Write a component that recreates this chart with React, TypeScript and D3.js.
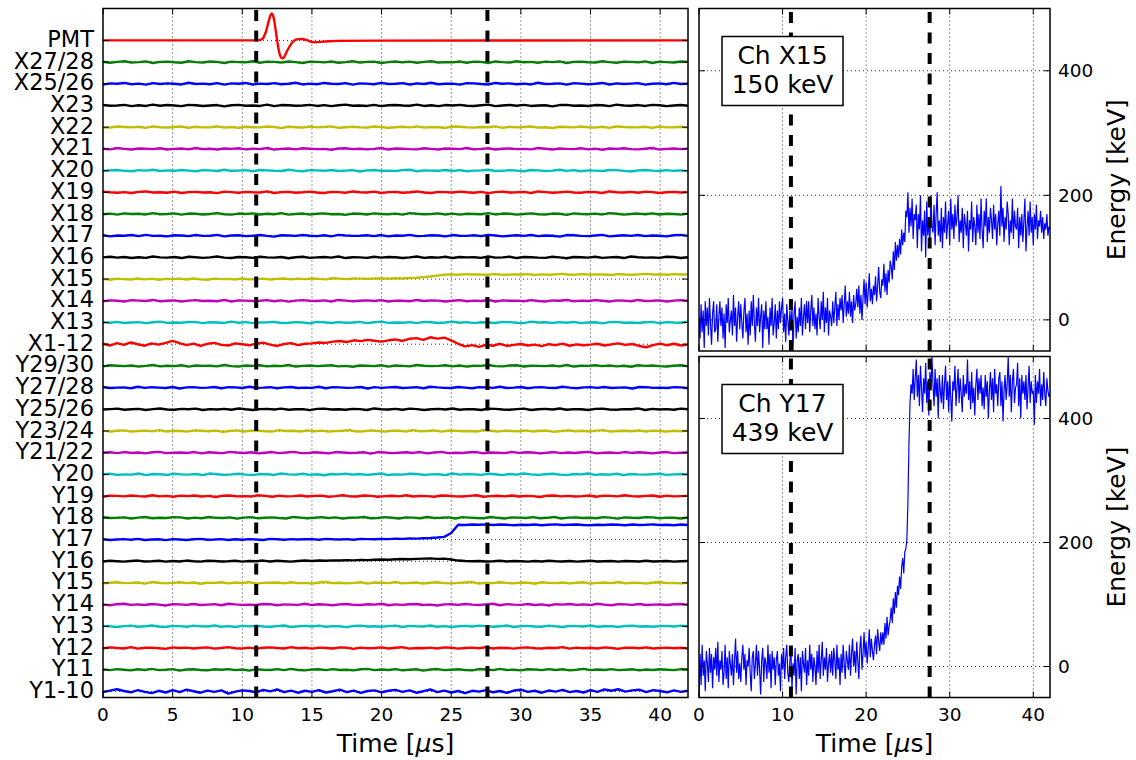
import React from "react";
import * as d3 from "d3";

// ---------- labels / ticks ----------
const CHANNELS = [
  "Y1-10", "Y11", "Y12", "Y13", "Y14", "Y15", "Y16", "Y17", "Y18", "Y19", "Y20",
  "Y21/22", "Y23/24", "Y25/26", "Y27/28", "Y29/30", "X1-12", "X13", "X14", "X15",
  "X16", "X17", "X18", "X19", "X20", "X21", "X22", "X23", "X25/26", "X27/28", "PMT",
];
const COLORS = ["#0000ff", "#008000", "#ff0000", "#00bfbf", "#bf00bf", "#bfbf00", "#000000"];
const LEFT_TIME_TICKS = [0, 5, 10, 15, 20, 25, 30, 35, 40];
const RIGHT_TIME_TICKS = [0, 10, 20, 30, 40];
const ENERGY_TICKS = [0, 200, 400];
const MARKERS = [11.0, 27.6];
const BOX_TOP = ["Ch X15", "150 keV"];
const BOX_BOTTOM = ["Ch Y17", "439 keV"];

// ---------- left panel traces (offset units: 100 = one channel spacing) ----------
const PMT_T = [0, 11.0, 11.3, 11.5, 11.7, 11.9, 12.0, 12.1, 12.2, 12.3, 12.4, 12.5, 12.6, 12.7, 12.8, 12.9, 13.0, 13.1, 13.2, 13.4, 13.6, 13.8, 14.0, 14.3, 14.6, 14.9, 15.2, 15.6, 16.2, 17, 20, 42];
const PMT_V = [0, 0, 2, 10, 40, 90, 112, 124, 118, 90, 45, 0, -40, -68, -80, -83, -78, -65, -50, -28, -8, 2, 6, 7, 2, -6, -9, -7, -4, -2, -1, 0];

const T_Y1_10 = [-3,4,10,2,-4,6,-2,-8,3,-5, 6,-3,8,1,-6,4,-2,5,-10,-1, 5,2,-4,7,0,9,-3,4,-6,3, -2,6,-5,1,8,-3,4,-7,2,5, -4,3,7,-2,5,-6,1,9,-3,4, -5,2,-8,3,-1,6,-4,2,-7,4, 8,-2,3,-6,4,-1,7,-3,2,-5, 6,-2,9,3,10,-1,5,8,-3,6, 2,-4,5,-2,3];
const T_X1_12 = [2,-6,5,-3,8,0,-7,4,-2,6, 15,5,-4,3,-8,2,6,-3,-6,4, 0,-5,3,7,-2,-8,1,5,-4,2, 4,8,6,12,15,10,18,14,20,16, 12,18,22,15,25,28,20,32,26,30, 18,2,-10,-4,-12,-3,-7,2,-8,-3, 1,-6,-2,-9,0,-4,3,-7,-1,-5, -2,2,-6,-1,4,-3,1,-8,-14,-4, 3,-5,2,-6,-1];
const T_X15 = [1,-3,2,0,-2,3,-1,2,-3,1, 0,2,-2,3,-1,-3,2,0,1,-2, 3,-1,0,2,-2,1,3,-1,2,0, 3,1,-1,4,2,0,3,2,1,3, 3,2,4,3,5,6,9,12,16,20, 22,20,23,21,22,19,23,21,20,22, 21,23,19,22,20,22,24,20,21,23, 20,22,21,19,23,21,20,22,24,21, 22,20,23,21,22];
const T_Y17 = [1,-2,0,2,-1,3,-2,0,1,-3, 2,0,-2,1,3,-1,0,2,-2,1, -1,2,0,-2,3,1,-1,2,0,1, 2,-1,3,1,0,2,-1,3,2,1, 3,2,4,3,5,4,6,7,9,12, 30,68,67,69,68,70,67,69,68,66, 68,67,69,66,68,70,67,68,69,67, 66,68,67,69,68,66,69,67,68,70, 67,68,66,69,67];
const T_Y16 = [-1,2,0,-2,1,3,-1,0,2,-2, 1,-1,3,0,-2,2,1,-1,0,2, -2,1,0,3,-1,2,0,-2,1,3, 1,3,2,4,3,5,4,6,5,7, 8,7,9,10,9,11,12,13,11,12, 8,3,1,0,1,-1,0,2,-1,1, 0,-2,1,-1,2,0,-1,1,-2,0, 2,-1,0,1,-2,1,0,-1,2,-1, 0,1,-2,0,1];

const T_Y11 = [1,-2,3,0,-3,2,-1,4,-2,0,3,-4,1,2,-1,-3,2,0,3,-2,1,-4,2,0,-1,3,-2,4,-1,-3,1,2,-2,3,-1,0,-3,2,4,-2,1,-1,3,-3,0,2,-4,1,3,-2,0,2,-1,-3,3,1,-2,4,-1,0,-3,2,1,-2,3,-1,2,-3,0,4,-2,1,-1,3,-2,0,2,-3,1,-1,2,0,-2,3,1];
const T_Y12 = [-1,3,0,-2,4,-3,1,2,-1,-4,3,0,2,-2,1,3,-3,0,4,-1,-2,2,-3,1,3,0,-2,4,-1,1,-3,2,0,-2,3,1,-4,2,-1,0,3,-2,1,4,-3,0,-1,2,-2,3,1,-3,0,2,-1,4,-2,1,0,-3,2,3,-1,-2,1,0,4,-3,2,-1,1,-2,3,0,-4,2,1,-1,3,-2,0,2,-1,1,-3];
const T_Y13 = [2,0,-3,1,3,-2,0,4,-1,-3,2,1,-2,3,0,-1,4,-2,1,-3,2,0,3,-1,-2,1,4,-3,0,2,-1,3,-2,1,0,-4,2,3,-1,0,-2,1,3,-3,2,0,-1,4,-2,1,-3,0,2,-1,3,1,-2,0,4,-3,1,2,-1,-2,3,0,-3,2,1,-1,4,-2,0,1,-3,2,3,-1,0,-2,1,2,-1,3,0];
const T_Y14 = [0,-3,2,4,-1,1,-2,3,0,-4,2,1,-1,3,-2,0,2,-3,4,1,-1,0,-2,3,2,-3,1,0,-1,4,-2,2,0,-3,1,3,-1,-2,2,0,4,-3,1,-1,2,3,-2,0,-4,1,2,-1,3,0,-2,1,4,-3,2,0,-1,3,-2,1,-4,2,0,3,-1,1,-2,4,0,-3,2,1,-1,3,-2,0,1,-2,2,3,-1];
const T_Y15 = [-2,1,3,-1,0,2,-3,4,1,-2,0,3,-1,2,-4,1,0,3,-2,2,-1,4,-3,0,1,2,-2,3,-1,0,-3,2,4,-1,1,-2,0,3,-3,2,1,-1,4,-2,0,2,-3,1,3,-1,-2,0,2,4,-3,1,-1,3,0,-2,2,1,-4,3,0,-1,2,-2,1,3,-3,0,2,-1,4,-2,1,0,-3,2,3,-1,0,-2,1];
const T_Y18 = [3,-1,0,2,-3,1,4,-2,0,-1,3,2,-3,1,-2,4,0,-1,2,-4,1,3,-2,0,2,-1,-3,4,1,-2,0,3,-1,2,-3,0,1,4,-2,-1,3,0,-3,2,1,-2,4,-1,0,2,-3,3,1,-1,-2,4,0,-3,2,1,-1,3,-2,0,4,-3,1,2,-1,0,-2,3,1,-4,2,0,-1,3,2,-2,1,0,-3,2];
const T_Y19 = [-3,2,1,-1,3,0,-2,4,-1,1,-3,2,0,3,-2,1,-4,2,3,-1,0,-2,4,1,-3,2,-1,0,3,-2,1,2,-3,0,4,-1,-2,3,1,-3,0,2,-1,4,-2,1,0,-3,3,2,-1,-2,1,4,-3,0,2,-1,3,-2,1,0,-4,2,3,-1,1,-2,0,3,-3,2,1,-1,4,0,-2,1,3,-3,2,-1,0,1];
const T_Y20 = [1,3,-2,0,-1,4,-3,2,1,-2,3,0,-1,2,-3,4,1,-2,0,3,-1,-3,2,1,-2,4,0,-1,3,-2,1,-4,2,0,3,-1,2,-2,1,4,-3,0,-1,3,2,-2,0,1,-3,4,-1,2,0,-2,3,1,-3,2,-1,4,0,-2,1,3,-1,-3,2,0,4,-2,1,-1,3,-3,2,0,-1,1,3,-2,0,2,-1];
const T_Y21_22 = [0,2,-2,3,-1,1,-3,2,4,-2,0,1,-1,3,-3,2,0,-2,4,1,-1,2,-3,0,3,-2,1,4,-1,-2,2,0,-3,3,1,-1,0,2,-4,3,1,-2,0,2,-1,3,-3,1,4,-2,0,-1,2,3,-3,1,0,-2,4,-1,2,1,-3,0,3,-2,1,-1,2,4,-3,0,1,-2,3,-1,2,0,-3,1,3,-2,0,1];
const T_Y23_24 = [2,-2,1,3,-3,0,2,-1,4,-2,1,0,-3,3,1,-1,2,-4,0,3,-2,1,2,-1,-3,4,0,1,-2,3,-1,2,-3,0,1,4,-2,-1,3,0,-3,2,1,-2,4,-1,0,3,-3,1,2,-1,0,-2,4,1,-3,2,0,-1,3,-2,1,2,-4,0,3,-1,1,-2,2,4,-3,0,1,-1,3,-2,2,0,-3,1,-1,2];
const T_Y25_26 = [-1,1,3,-2,0,2,-3,1,4,-1,-2,2,0,3,-3,1,-1,2,-2,4,0,-3,1,2,-1,3,-2,0,1,-4,2,3,-1,0,-2,2,1,-3,4,0,-1,2,-2,3,1,-3,0,2,-1,4,-2,1,0,-3,3,2,-1,-2,1,3,-3,0,2,-1,4,-2,1,0,-3,2,3,-1,-2,1,0,4,-3,2,-1,1,-2,3,0];
const T_Y27_28 = [3,-2,0,1,-3,4,-1,2,0,-2,3,-4,1,2,-1,0,3,-3,2,1,-2,4,-1,0,2,-3,1,3,-2,0,-1,4,-3,2,1,-1,0,3,-4,2,-1,1,3,-2,0,2,-3,4,1,-1,-2,3,0,-3,2,1,-1,4,-2,0,3,-3,1,2,-1,-2,4,0,-3,1,2,-1,3,-2,0,1,-4,3,2,-1,0,-2,2,1,-3];
const T_Y29_30 = [-2,3,1,-1,2,-3,0,4,-2,1,-1,3,-3,2,0,1,-2,4,-1,-3,2,0,3,-2,1,-1,4,-3,0,2,-1,1,3,-2,0,-4,2,1,-1,3,-3,2,0,-2,4,1,-1,0,3,-2,2,-3,1,0,4,-1,-2,2,3,-3,1,0,-1,2,-2,4,-3,1,0,3,-1,2,-2,1,-4,3,0,2,-1,-3,1,3,-2];
const T_X13 = [1,-1,3,-2,0,2,-3,1,4,-2,0,-1,3,2,-3,1,0,-2,4,-1,2,-3,0,1,3,-2,-1,2,0,-4,3,1,-2,2,-1,0,3,-3,1,4,-2,0,-1,2,-3,3,1,-2,0,4,-1,2,-3,1,0,-2,3,2,-1,-3,4,0,1,-2,2,-1,3,-3,0,1,-4,2,3,-1,0,-2,1,3,-3,2,0,-1,4];
const T_X14 = [-2,2,0,-3,3,1,-1,4,-2,0,2,-3,1,3,-1,0,-2,4,-3,2,1,-1,0,3,-2,2,-4,1,3,0,-1,2,-3,4,1,-2,0,2,-1,3,-3,1,0,-2,4,-1,2,1,-3,0,3,-2,1,-1,4,-3,2,0,1,-2,3,-1,-3,2,0,4,-2,1,-1,3,0,-3,2,1,-2,4,-1,0,2,-3,1,3,-1];
const T_X16 = [0,3,-1,2,-3,1,-2,4,0,-1,2,-3,3,1,-2,0,4,-1,-3,2,1,-2,3,0,-1,2,-4,1,3,-2,0,2,-1,4,-3,1,0,-2,3,-1,2,1,-3,0,4,-2,1,-1,3,-3,2,0,1,-2,4,-1,0,3,-3,2,1,-1,-2,3,0,-4,2,1,-1,3,-2,0,2,-3,4,1,-1,0,-2,3,2,-3,1];
const T_X17 = [2,-3,1,0,3,-2,4,-1,0,-3,2,1,-2,3,-1,0,4,-3,1,2,-2,0,3,-1,-4,2,1,-1,3,0,-2,2,-3,4,1,-1,0,2,-2,3,-3,1,0,4,-2,-1,2,1,-3,3,0,-1,2,-2,4,1,-3,0,2,-1,3,-2,1,0,-4,3,2,-1,-2,1,4,-3,0,2,-1,3,-2,1,0,-3,2,4,-1];
const T_X18 = [-1,2,-3,3,0,1,-2,4,-1,0,3,-3,2,1,-2,0,4,-1,-3,2,0,3,-2,1,-1,4,-3,0,2,-2,1,3,-1,0,-4,2,1,-2,3,0,-1,2,-3,4,1,-1,0,3,-2,2,-3,1,0,-1,4,-2,2,1,-3,0,3,-1,-2,2,1,-4,3,0,-1,2,-2,4,1,-3,0,2,-1,3,-2,1,0,-3,2];
const T_X19 = [3,0,-2,1,-3,2,4,-1,0,-2,3,-3,1,2,-1,0,-4,3,1,-2,2,0,-1,4,-3,1,2,-2,0,3,-1,-3,2,1,-2,4,0,-1,3,-3,1,2,-2,0,4,-1,-3,2,1,-1,3,0,-2,2,-4,1,3,-1,0,2,-3,4,1,-2,0,3,-1,-2,2,1,-3,4,0,-1,2,-2,3,1,-3,0,2,-1,1];
const T_X20 = [-2,1,3,-1,-3,2,0,4,-2,1,-1,3,0,-3,2,1,-2,4,-1,0,2,-3,3,1,-1,-2,4,0,-3,2,1,-1,3,-2,0,2,-4,1,3,-1,0,-2,2,4,-3,1,0,-1,3,-2,2,-3,0,1,4,-2,-1,2,0,-3,3,1,-2,0,4,-1,2,-3,1,0,-2,3,2,-1,-4,1,3,0,-2,2,-1,1,-3];
const T_X21 = [1,-2,4,0,-3,2,1,-1,3,-3,0,2,-2,4,-1,1,-3,2,0,3,-2,1,-1,4,-3,0,2,-2,3,1,-1,0,-4,2,3,-1,1,-2,0,4,-3,2,1,-1,-2,3,0,-3,2,1,-1,4,-2,0,3,-3,1,2,-1,0,-2,4,1,-3,2,0,-1,3,-2,1,-4,2,0,3,-1,-2,1,4,-3,0,2,-1,1];
const T_X22 = [0,-2,3,1,-1,2,-3,4,0,-2,1,3,-3,2,-1,0,4,-2,1,-3,2,0,-1,3,1,-4,2,0,-2,3,-1,1,4,-3,0,2,-1,-2,3,1,-3,0,2,-1,4,-2,1,0,-3,3,2,-1,-2,1,0,4,-3,2,-1,1,3,-2,0,-4,2,1,-1,3,0,-2,2,-3,4,1,-1,0,2,-3,3,-1,0,2,-2];
const T_X23 = [2,-1,0,3,-3,1,-2,4,-1,2,0,-3,3,1,-2,0,2,-4,1,3,-1,0,-2,4,-3,2,1,-1,0,3,-2,2,-3,1,4,-1,0,-2,3,-3,1,2,0,-1,4,-2,1,-3,2,0,3,-1,-2,1,4,-3,0,2,-1,3,-2,0,1,-4,2,3,-1,0,-2,2,1,-3,4,0,-1,2,-2,3,1,-3,0,2,-1];
const T_X25_26 = [-3,2,0,4,-2,1,-4,3,-1,2,0,-3,5,-1,1,-2,3,-4,2,0,4,-3,1,-1,3,-2,0,5,-3,1,-2,4,0,-1,3,-4,2,1,-2,4,-1,0,3,-3,2,-1,5,-2,0,1,-4,3,2,-1,-3,4,0,2,-2,1,-3,5,-1,0,2,-4,3,1,-2,0,4,-3,2,-1,1,3,-4,0,2,-2,4,-1,1];
const T_X27_28 = [2,-3,1,4,-2,0,3,-4,1,2,-1,-3,4,0,-2,3,1,-4,2,0,-1,4,-3,2,1,-2,3,0,-4,2,1,-1,3,-3,0,4,-2,1,2,-4,0,3,-1,2,-3,1,4,-2,0,-1,3,-3,2,1,-4,3,0,-2,4,-1,1,-3,2,0,3,-4,1,2,-1,-2,4,0,-3,2,1,-1,3,-4,2,0,-2,3,1];

// ---------- right panel energies (keV), sampled every 0.125 us from 0 to 42 us (one row per us) ----------
const ENERGY_X15 = [
  5, -30, 25, -20, 15, -45, 30, -10,
  20, -25, 35, -5, -40, 10, 30, -20,
  -15, 25, -35, 5, 30, -10, 20, -30,
  10, -45, 25, -5, 35, -20, 0, 15,
  -25, 40, -10, 20, -35, 5, 30, -15,
  25, -5, -30, 15, 35, -20, 10, -40,
  15, -25, 30, -10, 40, -5, -35, 20,
  -10, 35, -20, 5, 25, -45, 15, -15,
  30, -15, 5, -40, 20, -10, 35, -25,
  -5, 25, -30, 15, -15, 30, -5, 20,
  35, -20, 10, -35, 25, 0, -25, 15,
  -15, 20, -50, 10, 30, -30, 5, -20,
  20, -10, 35, -25, 5, 25, -15, 30,
  -5, 30, -20, 15, 40, -10, 20, -15,
  10, -25, 35, 5, -15, 30, 0, 45,
  -20, 20, -5, 35, -25, 15, 5, -10,
  30, -5, 20, 45, -10, 25, 0, 35,
  15, 40, -5, 25, 55, 5, 30, 10,
  45, 5, 30, -5, 40, 15, 25, 50,
  20, 55, 10, 40, 0, 35, 65, 25,
  60, 20, 45, 75, 30, 50, 25, 55,
  40, 70, 30, 55, 85, 45, 35, 65,
  55, 90, 45, 75, 40, 80, 60, 95,
  85, 65, 110, 80, 125, 95, 120, 100,
  130, 105, 145, 120, 140, 125, 175, 165,
  205, 140, 180, 150, 195, 130, 170, 160,
  185, 115, 170, 145, 200, 110, 160, 135,
  175, 100, 190, 135, 165, 120, 200, 150,
  140, 185, 120, 170, 205, 135, 160, 125,
  180, 115, 165, 140, 190, 130, 155, 175,
  120, 195, 145, 170, 130, 185, 150, 165,
  200, 125, 160, 140, 180, 115, 170, 155,
  135, 175, 110, 160, 145, 190, 125, 165,
  150, 120, 185, 140, 170, 130, 195, 145,
  115, 175, 150, 195, 125, 165, 140, 180,
  160, 130, 185, 145, 170, 120, 155, 175,
  135, 215, 150, 180, 125, 165, 145, 190,
  170, 120, 160, 140, 195, 130, 175, 150,
  145, 180, 115, 165, 135, 170, 125, 160,
  195, 110, 150, 175, 135, 190, 140, 165,
  120, 170, 145, 185, 130, 160, 150, 175,
  140, 165, 130, 155, 145, 170, 135, 150,
  145,
];
const ENERGY_Y17 = [
  -50, 20, -30, 35, -15, 10, -40, 25,
  5, -25, 30, -10, 20, -35, 15, -5,
  30, -15, 40, -25, 10, -5, 25, -30,
  -10, 35, -20, 15, -35, 25, 5, -15,
  20, -30, 10, 45, -10, 25, -20, 5,
  -25, 15, 35, -5, 20, -30, 10, 0,
  30, -10, -40, 15, 25, -20, 5, 35,
  -15, 25, -5, -45, 10, 30, -25, 15,
  5, -20, 35, -10, 20, -35, 25, -5,
  15, -30, 10, 25, -15, 5, -40, 20,
  -5, 30, -20, 15, 35, -10, -25, 10,
  25, -35, 5, -15, 30, -45, 10, 20,
  -20, 15, -40, 25, 5, -10, 30, -30,
  10, -15, 35, -5, 20, -25, 15, 0,
  -30, 25, -10, 35, -20, 10, 40, -15,
  15, -5, 30, -25, 5, 20, -10, 25,
  -15, 30, 10, -20, 35, -5, 15, -30,
  20, -10, 35, 5, -20, 25, 10, -5,
  35, -15, 20, 45, 0, 25, -10, 40,
  10, -20, 30, 50, -5, 20, 55, 15,
  40, 5, 30, 60, 15, 45, 25, 10,
  35, 50, 20, 60, 40, 25, 55, 35,
  55, 35, 70, 45, 80, 50, 65, 75,
  95, 70, 110, 85, 120, 95, 130, 115,
  145, 125, 160, 175, 150, 185, 190, 205,
  265, 360, 425, 455, 440, 480, 430, 465,
  495, 435, 470, 420, 485, 450, 410, 465,
  440, 490, 425, 460, 405, 475, 445, 500,
  455, 420, 480, 435, 465, 400, 470, 445,
  425, 470, 415, 455, 485, 430, 460, 410,
  470, 435, 395, 460, 445, 485, 420, 450,
  480, 425, 465, 440, 410, 470, 435, 455,
  440, 495, 430, 460, 415, 475, 425, 450,
  405, 455, 480, 430, 465, 440, 470, 420,
  450, 415, 470, 435, 460, 400, 445, 475,
  430, 465, 410, 480, 440, 455, 420, 465,
  475, 420, 460, 395, 445, 470, 430, 455,
  500, 435, 470, 410, 460, 480, 425, 450,
  455, 490, 420, 465, 400, 470, 440, 460,
  430, 470, 415, 450, 485, 425, 460, 440,
  445, 390, 470, 425, 460, 440, 480, 420,
  455, 430, 475, 440, 420, 465, 445, 435,
  440,
];

const TRACES: Record<string, number[]> = {
  "Y1-10": T_Y1_10, Y11: T_Y11, Y12: T_Y12, Y13: T_Y13, Y14: T_Y14, Y15: T_Y15,
  Y16: T_Y16, Y17: T_Y17, Y18: T_Y18, Y19: T_Y19, Y20: T_Y20, "Y21/22": T_Y21_22,
  "Y23/24": T_Y23_24, "Y25/26": T_Y25_26, "Y27/28": T_Y27_28, "Y29/30": T_Y29_30,
  "X1-12": T_X1_12, X13: T_X13, X14: T_X14, X15: T_X15, X16: T_X16, X17: T_X17,
  X18: T_X18, X19: T_X19, X20: T_X20, X21: T_X21, X22: T_X22, X23: T_X23,
  "X25/26": T_X25_26, "X27/28": T_X27_28,
};

const FONT = "DejaVu Sans";
const T_MAX = 42;

const xL = d3.scaleLinear().domain([0, T_MAX]).range([103, 688]);
const yL = d3.scaleLinear().domain([-28, 3147]).range([697.5, 8.5]);
const xR = d3.scaleLinear().domain([0, T_MAX]).range([699, 1050]);
const yTop = d3.scaleLinear().domain([-50, 500]).range([351, 8.5]);
const yBot = d3.scaleLinear().domain([-50, 500]).range([697.5, 356.5]);

const uniformTimes = (n: number) => {
  const s = d3.scaleLinear().domain([0, n - 1]).range([0, T_MAX]);
  return d3.range(n).map((i) => s(i));
};

const GRID = { stroke: "#000", strokeWidth: 0.8, strokeDasharray: "1,3" };

function Frame({ x0, x1, y0, y1 }: any) {
  return <rect x={x0} y={y0} width={x1 - x0} height={y1 - y0} fill="none" stroke="#000" strokeWidth={1.5} />;
}

function Markers({ x, y0, y1 }: any) {
  return (
    <g>
      {MARKERS.map((m) => (
        <line key={m} x1={x(m)} x2={x(m)} y1={y1} y2={y0} stroke="#000" strokeWidth={4} strokeDasharray="11,9.5" />
      ))}
    </g>
  );
}

function EnergyPanel({ y, data, box, idPrefix, showX }: any) {
  const [y1, y0] = y.range();
  const x0 = xR.range()[0], x1 = xR.range()[1];
  const times = uniformTimes(data.length);
  const line = d3.line<number>().x((_, i) => xR(times[i])).y((v) => y(v));
  const bx0 = 722, bx1 = 843, by0 = y0 + 28, by1 = y0 + 97;
  return (
    <g>
      <defs>
        <clipPath id={idPrefix}>
          <rect x={x0} y={y0} width={x1 - x0} height={y1 - y0} />
        </clipPath>
      </defs>
      {RIGHT_TIME_TICKS.filter((t) => t > 0).map((t) => (
        <line key={"gx" + t} x1={xR(t)} x2={xR(t)} y1={y0} y2={y1} {...GRID} />
      ))}
      {ENERGY_TICKS.map((e) => (
        <line key={"gy" + e} x1={x0} x2={x1} y1={y(e)} y2={y(e)} {...GRID} />
      ))}
      <path d={line(data) || ""} fill="none" stroke="#0000ff" strokeWidth={1.2} clipPath={`url(#${idPrefix})`} />
      <g clipPath={`url(#${idPrefix})`}>
        <Markers x={xR} y0={y0} y1={y1} />
      </g>
      {RIGHT_TIME_TICKS.map((t) => (
        <g key={"tx" + t}>
          <line x1={xR(t)} x2={xR(t)} y1={y1} y2={y1 - 6} stroke="#000" strokeWidth={1} />
          <line x1={xR(t)} x2={xR(t)} y1={y0} y2={y0 + 6} stroke="#000" strokeWidth={1} />
        </g>
      ))}
      {ENERGY_TICKS.map((e) => (
        <g key={"ty" + e}>
          <line x1={x0} x2={x0 + 6} y1={y(e)} y2={y(e)} stroke="#000" strokeWidth={1} />
          <line x1={x1} x2={x1 - 6} y1={y(e)} y2={y(e)} stroke="#000" strokeWidth={1} />
          <text x={x1 + 8} y={y(e) + 6.5} fontSize={18.5} fontFamily={FONT}>{e}</text>
        </g>
      ))}
      {showX &&
        RIGHT_TIME_TICKS.map((t) => (
          <text key={"lx" + t} x={xR(t)} y={720.5} fontSize={18.5} fontFamily={FONT} textAnchor="middle">{t}</text>
        ))}
      <rect x={bx0} y={by0} width={bx1 - bx0} height={by1 - by0} fill="#fff" stroke="#000" strokeWidth={1.5} />
      <text x={(bx0 + bx1) / 2} y={by0 + 27.5} fontSize={25} fontFamily={FONT} textAnchor="middle">{box[0]}</text>
      <text x={(bx0 + bx1) / 2} y={by0 + 56} fontSize={25} fontFamily={FONT} textAnchor="middle">{box[1]}</text>
      <text transform={`translate(1125,${(y0 + y1) / 2}) rotate(-90)`} fontSize={25} fontFamily={FONT} textAnchor="middle">Energy [keV]</text>
      <Frame x0={x0} x1={x1} y0={y0} y1={y1} />
    </g>
  );
}

function TimeLabel({ cx }: any) {
  return (
    <text x={cx} y={752} fontSize={25} fontFamily={FONT} textAnchor="middle">
      Time [<tspan fontStyle="italic">μ</tspan>s]
    </text>
  );
}

export default function App() {
  const [lx0, lx1] = xL.range();
  const [ly1, ly0] = yL.range();
  return (
    <svg width={1136} height={760} viewBox="0 0 1136 760" style={{ display: "block", position: "absolute", left: 0, top: 0, background: "#fff" }}>
      <rect x={0} y={0} width={1136} height={760} fill="#fff" />
      <defs>
        <clipPath id="leftclip">
          <rect x={lx0} y={ly0} width={lx1 - lx0} height={ly1 - ly0} />
        </clipPath>
      </defs>
      {LEFT_TIME_TICKS.filter((t) => t > 0).map((t) => (
        <line key={"g" + t} x1={xL(t)} x2={xL(t)} y1={ly0} y2={ly1} {...GRID} />
      ))}
      {CHANNELS.map((c, i) => (
        <line key={"gh" + c} x1={lx0} x2={lx1} y1={yL(i * 100)} y2={yL(i * 100)} {...GRID} />
      ))}
      <g clipPath="url(#leftclip)">
        {CHANNELS.map((c, i) => {
          const color = COLORS[i % COLORS.length];
          let ts: number[], vs: number[];
          if (c === "PMT") {
            ts = PMT_T;
            vs = PMT_V;
          } else {
            vs = TRACES[c];
            ts = uniformTimes(vs.length);
          }
          const line = d3.line<number>().x((_, k) => xL(ts[k])).y((v) => yL(i * 100 + v));
          return <path key={c} d={line(vs) || ""} fill="none" stroke={color} strokeWidth={2.4} strokeLinejoin="round" />;
        })}
        <Markers x={xL} y0={ly0} y1={ly1} />
      </g>
      {LEFT_TIME_TICKS.map((t) => (
        <g key={"t" + t}>
          <line x1={xL(t)} x2={xL(t)} y1={ly1} y2={ly1 - 6} stroke="#000" strokeWidth={1} />
          <line x1={xL(t)} x2={xL(t)} y1={ly0} y2={ly0 + 6} stroke="#000" strokeWidth={1} />
          <text x={xL(t)} y={720.5} fontSize={18.5} fontFamily={FONT} textAnchor="middle">{t}</text>
        </g>
      ))}
      {CHANNELS.map((c, i) => (
        <g key={"yt" + c}>
          <line x1={lx0} x2={lx0 + 6} y1={yL(i * 100)} y2={yL(i * 100)} stroke="#000" strokeWidth={1} />
          <line x1={lx1} x2={lx1 - 6} y1={yL(i * 100)} y2={yL(i * 100)} stroke="#000" strokeWidth={1} />
          <text x={lx0 - 9} y={yL(i * 100) + 6.5} fontSize={22.5} fontFamily={FONT} textAnchor="end">{c}</text>
        </g>
      ))}
      <Frame x0={lx0} x1={lx1} y0={ly0} y1={ly1} />
      <TimeLabel cx={(lx0 + lx1) / 2} />

      <EnergyPanel y={yTop} data={ENERGY_X15} box={BOX_TOP} idPrefix="clipTop" showX={false} />
      <EnergyPanel y={yBot} data={ENERGY_Y17} box={BOX_BOTTOM} idPrefix="clipBot" showX={true} />
      <TimeLabel cx={(xR.range()[0] + xR.range()[1]) / 2} />
    </svg>
  );
}
